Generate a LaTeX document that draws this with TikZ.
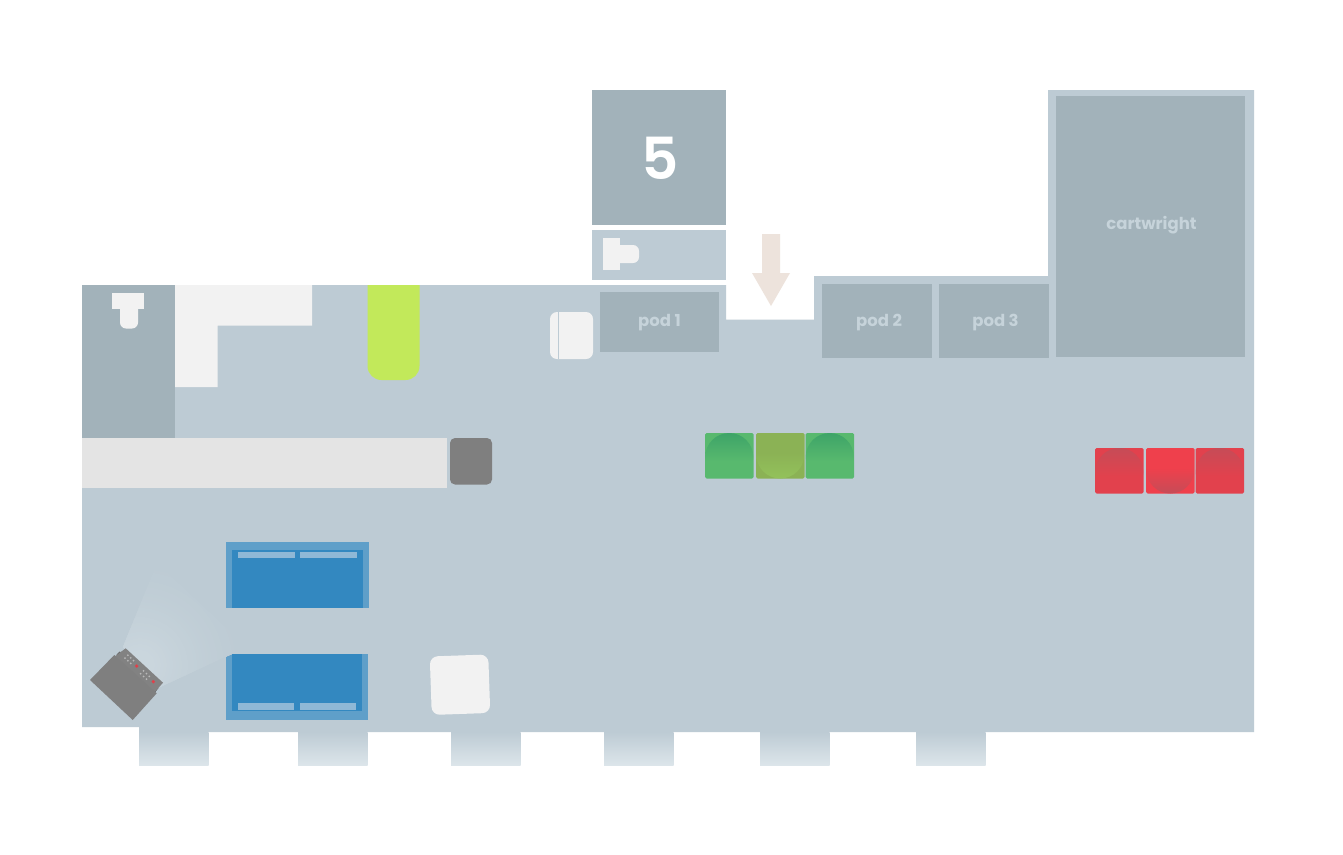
\documentclass[tikz,border=0pt]{standalone}
\usepackage{fontspec}
\setmainfont{Poppins}[BoldFont={Poppins Bold}]
\newfontfamily\fivefont{Poppins SemiBold}
\definecolor{floorc}{HTML}{BDCBD4}
\definecolor{roomc}{HTML}{A2B2BA}
\definecolor{labelc}{HTML}{C6D3DA}
\definecolor{whitec}{HTML}{F2F2F2}
\definecolor{winc}{HTML}{DCE5EA}
\definecolor{barc}{HTML}{E4E4E4}
\definecolor{greyc}{HTML}{7F7F7F}
\definecolor{stripc}{HTML}{828282}
\definecolor{darkc}{HTML}{666666}
\definecolor{limec}{HTML}{C2E95A}
\definecolor{arrowc}{HTML}{EDE3DC}
\definecolor{blueo}{HTML}{5F9FC9}
\definecolor{bluei}{HTML}{3388C0}
\definecolor{bluep}{HTML}{8FB8D6}
\definecolor{gt}{HTML}{58B96E}
\definecolor{gd}{HTML}{3EA468}
\definecolor{ot}{HTML}{8BB255}
\definecolor{ol}{HTML}{93C25B}
\definecolor{rt}{HTML}{E2414D}
\definecolor{rm}{HTML}{EF404C}
\definecolor{rd}{HTML}{C64C57}
\definecolor{coneL}{HTML}{CAD6DD}
\definecolor{reddot}{HTML}{E0404A}
\definecolor{dotc}{HTML}{B8B8B8}
\tikzset{
  roomlabel/.style={text=labelc,font=\bfseries\fontsize{16.5}{16.5}\selectfont,inner sep=0pt},
  tile/.style={rounded corners=1.5pt},
}
\newcommand{\wind}[1]{\shade[top color=floorc,bottom color=winc] (#1,732) rectangle (#1+69.5,765);}
\newcommand{\archtop}[4]{%
  \fill[#3,tile] (#1,#2) rectangle (#1+48.5,#2+45.5);
  \begin{scope}
    \clip (#1+24.25,#2+24) circle (24);
    \shade[top color=#4,bottom color=#3] (#1,#2) rectangle (#1+48.5,#2+28);
  \end{scope}}
\newcommand{\archbot}[4]{%
  \fill[#3,tile] (#1,#2) rectangle (#1+48.5,#2+45.5);
  \begin{scope}
    \clip (#1+24.25,#2+21.5) circle (24);
    \shade[bottom color=#4,top color=#3] (#1,#2+20) rectangle (#1+48.5,#2+45.5);
  \end{scope}}
\begin{document}
\begin{tikzpicture}[x=1pt,y=-1pt]
\useasboundingbox (0,0) rectangle (1343,854);
\fill[white] (0,0) rectangle (1343,854);
% windows
\wind{139}\wind{298}\wind{451}\wind{604}\wind{760}\wind{916}
% floor
\fill[floorc] (82,285) -- (726,285) -- (726,319.5) -- (814,319.5) -- (814,276) -- (1048,276) -- (1048,90) -- (1254,90) -- (1254,732) -- (139,732) -- (139,727) -- (82,727) -- cycle;
% room 5 and the one beneath it
\fill[white] (592,280) rectangle (726,285);
\fill[roomc] (592,90) rectangle (726,225);
\fill[floorc] (592,229.5) rectangle (726,280);
\node[text=white,inner sep=0pt,font=\fivefont\fontsize{58}{58}\selectfont] (five) at (660.5,158.5) {5};
\fill[whitec] (603,238) rectangle (620,270);
\fill[whitec,rounded corners=6pt] (612,245) -- (639,245) -- (639,263) -- (612,263) -- cycle;
% arrow
\fill[arrowc] (762,234) -- (780,234) -- (780,273) -- (790,273) -- (771,306) -- (752,273) -- (762,273) -- cycle;
% pods
\fill[roomc] (600,292) rectangle (718.5,352);
\fill[roomc] (822,284) rectangle (931.5,358);
\fill[roomc] (939,284) rectangle (1048.5,358);
\fill[roomc] (1056,96) rectangle (1245,357);
\node[roomlabel] (pod1) at (659.5,322.5) {pod 1};
\node[roomlabel] (pod2) at (879,322.5) {pod 2};
\node[roomlabel] (pod3) at (995.5,322.5) {pod 3};
\node[roomlabel] (cart) at (1151.5,225.5) {cartwright};
% upper left
\fill[roomc] (82,285) rectangle (175,438);
\fill[whitec] (112,292.5) rectangle (144,309);
\fill[whitec,rounded corners=6pt] (120,300) -- (138,300) -- (138,328.5) -- (120,328.5) -- cycle;
\fill[whitec] (175,285) -- (312,285) -- (312,325.5) -- (217.5,325.5) -- (217.5,387) -- (175,387) -- cycle;
\fill[limec,rounded corners=14pt] (367.5,270) -- (419.5,270) -- (419.5,380) -- (367.5,380) -- cycle;
\fill[white] (360,270) rectangle (425,285);
\fill[barc] (82,438) rectangle (447,487.5);
\fill[greyc,rounded corners=5pt] (450,438) rectangle (492,484.5);
% white table icon
\fill[whitec,rounded corners=7pt] (550,312) rectangle (593,359);
\draw[floorc,line width=1.3pt] (558.7,312) -- (558.7,359);
\node[fill=whitec,rounded corners=8pt,minimum size=58.5pt,inner sep=0pt,rotate=2] (table) at (460,684.7) {};
% green tiles
\archtop{705}{433}{gt}{gd}
\archbot{756}{433}{ot}{ol}
\archtop{805.5}{433}{gt}{gd}
% red tiles
\archtop{1095}{448}{rt}{rd}
\archbot{1146}{448}{rm}{rd}
\archtop{1195.5}{448}{rt}{rd}
% blue sofas
\fill[blueo] (226,541.5) rectangle (369,607.5);
\fill[bluei] (232.3,550) rectangle (363.3,607.5);
\fill[bluep] (238.3,551.7) rectangle (295.3,558);
\fill[bluep] (300,551.7) rectangle (357,558);
\fill[blueo] (226,654) rectangle (367.7,720);
\fill[bluei] (232.3,654) rectangle (361.7,711);
\fill[bluep] (238.3,703) rectangle (294,709.7);
\fill[bluep] (300,703) rectangle (355.7,709.7);
% light cone
\begin{scope}
  \clip (123,647) -- (157,563) -- (247,647) -- (160,687) -- cycle;
  \foreach \r in {108,105,...,15}{
    \pgfmathsetmacro{\p}{100*((108-\r)/93)^1.5}
    \fill[coneL!\p!floorc] (140,665) circle (\r);
  }
\end{scope}
% projector
\fill[darkc] (116.5,654.5) -- (119.5,651.5) -- (122,653) -- (118.5,657) -- cycle;
\fill[darkc] (152,689) -- (156,686) -- (158.5,688) -- (155,692.5) -- cycle;
\fill[stripc] (114,657) -- (125.7,648.3) -- (163,682.7) -- (155,691.7) -- (150,695) -- cycle;
\fill[greyc] (90,680) -- (114.3,655) -- (156.7,693.3) -- (132.7,720) -- cycle;
\fill[reddot] (136.7,666) circle (1.8);
\fill[reddot] (153.3,681.7) circle (1.8);
\foreach \cx/\cy in {129.3/659.3,145/675}{
  \foreach \a in {-1,0,1}{\foreach \b in {-0.5,0.5}{
    \fill[dotc] (\cx+2.9*\a+2.8*\b,\cy+2.7*\a-2.8*\b) circle (1);
  }}}
\end{tikzpicture}
\end{document}
